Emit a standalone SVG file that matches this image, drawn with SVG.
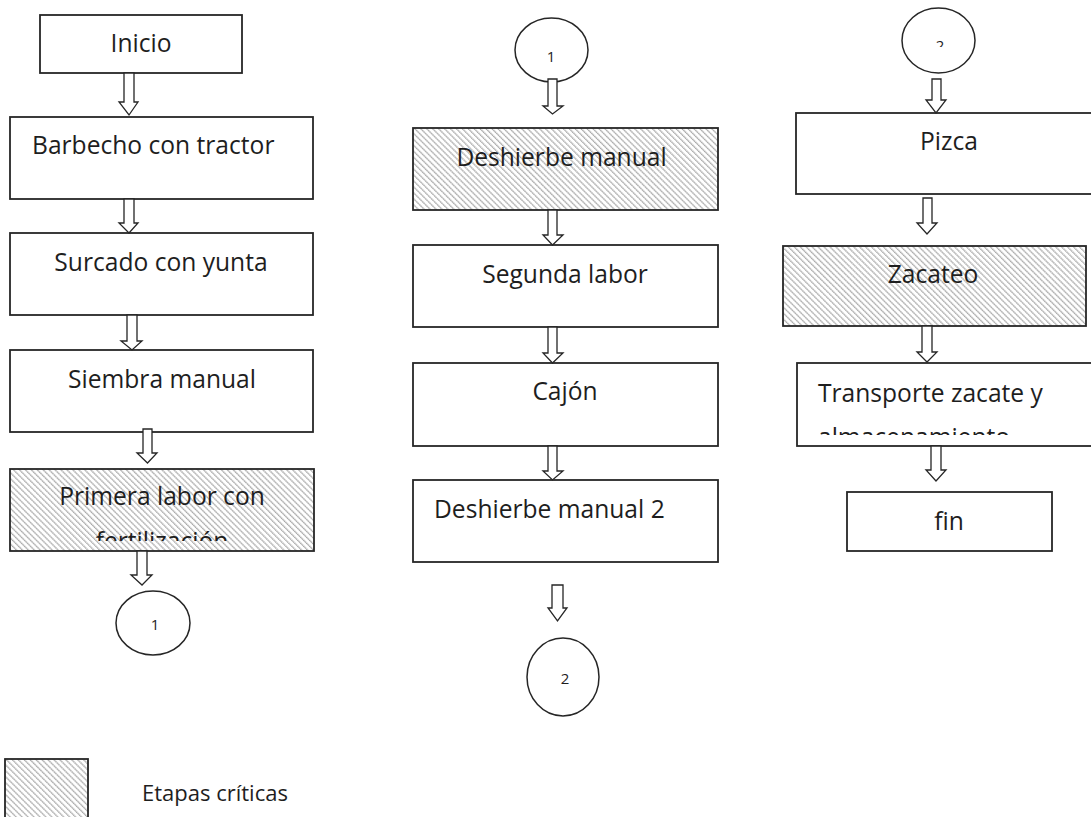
<svg xmlns="http://www.w3.org/2000/svg" width="1091" height="817" viewBox="0 0 1091 817">
<style>
.box{fill:#fff;stroke:#262626;stroke-width:1.8}
.hat{fill:url(#hatch);stroke:#262626;stroke-width:1.8}
.circ{fill:#fff;stroke:#262626;stroke-width:1.5}
.arr{fill:#fff;stroke:#262626;stroke-width:1.3;stroke-linejoin:miter}
.t{font-family:"Open Sans","Noto Sans",sans-serif;font-size:24.6px;fill:#1e1e1e}
.s{font-family:"Open Sans","Noto Sans",sans-serif;font-size:15px;fill:#1e1e1e}
.m{text-anchor:middle}
</style>
<defs>
<pattern id="hatch" patternUnits="userSpaceOnUse" width="4.2" height="4.2" patternTransform="rotate(-45)">
<rect width="4.2" height="4.2" fill="#fff"/>
<line x1="0.7" y1="0" x2="0.7" y2="4.2" stroke="#a2a2a2" stroke-width="1.3" stroke-dasharray="1.4 0.5"/>
</pattern>
<clipPath id="clipPrim"><rect x="10" y="469" width="304" height="72"/></clipPath>
<clipPath id="clipTrans"><rect x="797" y="363" width="294" height="72"/></clipPath>
<clipPath id="clipC2"><rect x="902" y="8" width="73" height="39"/></clipPath>
</defs>

<g id="inicio"><rect class="box" x="40" y="15" width="202" height="58"/><text class="t m" x="141" y="52">Inicio</text></g>
<g id="barbecho"><rect class="box" x="10" y="117" width="303" height="82"/><text class="t" x="32" y="154">Barbecho con tractor</text></g>
<g id="surcado"><rect class="box" x="10" y="233" width="303" height="82"/><text class="t m" x="161" y="271">Surcado con yunta</text></g>
<g id="siembra"><rect class="box" x="10" y="350" width="303" height="82"/><text class="t m" x="162" y="388">Siembra manual</text></g>
<g id="primera"><rect class="hat" x="10" y="469" width="304" height="82"/><g clip-path="url(#clipPrim)"><text class="t m" x="162" y="505">Primera labor con</text><text class="t m" x="162" y="550">fertilización</text></g></g>
<g id="c1a"><ellipse class="circ" cx="153" cy="623" rx="37" ry="32"/><text class="s m" x="155" y="630">1</text></g>

<g id="c1b"><ellipse class="circ" cx="551.5" cy="50" rx="36.5" ry="32"/><text class="s m" x="551" y="62">1</text></g>
<g id="deshierbe"><rect class="hat" x="413" y="128" width="305" height="82"/><text class="t m" x="561.5" y="166">Deshierbe manual</text></g>
<g id="segunda"><rect class="box" x="413" y="245" width="305" height="82"/><text class="t m" x="565" y="283">Segunda labor</text></g>
<g id="cajon"><rect class="box" x="413" y="363" width="305" height="83"/><text class="t m" x="565" y="400">Cajón</text></g>
<g id="deshierbe2"><rect class="box" x="413" y="480" width="305" height="82"/><text class="t" x="434" y="518">Deshierbe manual 2</text></g>
<g id="c2a"><ellipse class="circ" cx="563" cy="677" rx="36" ry="39"/><text class="s m" x="565" y="684">2</text></g>

<g id="c2b"><ellipse class="circ" cx="938.5" cy="40.5" rx="36.5" ry="32.5"/><g clip-path="url(#clipC2)"><text class="s m" x="940" y="51">2</text></g></g>
<g id="pizca"><rect class="box" x="796" y="113" width="320" height="81"/><text class="t m" x="949" y="150">Pizca</text></g>
<g id="zacateo"><rect class="hat" x="783" y="246" width="303" height="80"/><text class="t m" x="933" y="283">Zacateo</text></g>
<g id="transporte"><rect class="box" x="797" y="363" width="320" height="83"/><g clip-path="url(#clipTrans)"><text class="t" x="818" y="402">Transporte zacate y</text><text class="t" x="818" y="446">almacenamiento</text></g></g>
<g id="fin"><rect class="box" x="847" y="492" width="205" height="59"/><text class="t m" x="949" y="530">fin</text></g>

<g id="legend"><rect class="hat" x="5" y="759" width="83" height="70"/><text class="t" x="142" y="801" style="font-size:22px">Etapas críticas</text></g>

<g id="connectors">
<polygon class="arr" points="124,73 134,73 134,102 138,102 129,115 119,102 124,102"/>
<polygon class="arr" points="124,199 134,199 134,223 138,223 129,233 119,223 124,223"/>
<polygon class="arr" points="127,315 137,315 137,341 142,341 132,350 121,341 127,341"/>
<polygon class="arr" points="143,429 152,429 152,453 157,453 147.5,463 137,453 143,453"/>
<polygon class="arr" points="137,551 147,551 147,575 152,575 142,585 131,575 137,575"/>
<polygon class="arr" points="548,79 557,79 557,106 563,106 552.5,114 543,106 548,106"/>
<polygon class="arr" points="548,210 557,210 557,235 563,235 552.5,245 543,235 548,235"/>
<polygon class="arr" points="548,327 557,327 557,353 563,353 552.5,363 543,353 548,353"/>
<polygon class="arr" points="548,446 557,446 557,471 563,471 552.5,480 543,471 548,471"/>
<polygon class="arr" points="552,585 563,585 563,608 567,608 557.5,621 548,608 552,608"/>
<polygon class="arr" points="932,79 941,79 941,100 946,100 936,113 926,100 932,100"/>
<polygon class="arr" points="923,198 932,198 932,223 937,223 927,234 917,223 923,223"/>
<polygon class="arr" points="922,326 932,326 932,352 937,352 927,362 917,352 922,352"/>
<polygon class="arr" points="931,446 941,446 941,470 946,470 936,481 926,470 931,470"/>
</g>
</svg>
